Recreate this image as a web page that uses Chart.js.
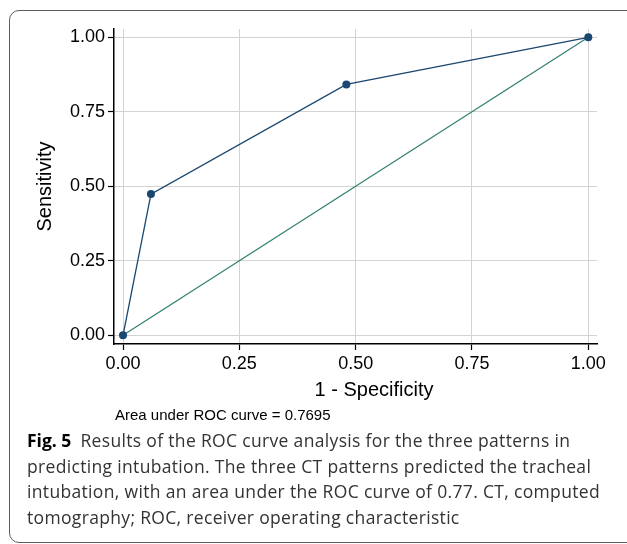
<!DOCTYPE html>
<html>
<head>
<meta charset="utf-8">
<script src="https://cdn.jsdelivr.net/npm/chart.js@4.4.1/dist/chart.umd.min.js"></script>
<style>
  html, body { margin: 0; padding: 0; background: #fff; overflow: hidden; }
  body { width: 627px; height: 544px; position: relative; }
  .frame {
    position: absolute; left: 9px; top: 10px; width: 700px; height: 531px;
    border: 1.5px solid #5e5e5e; border-radius: 10px;
  }
  #wrap { position: absolute; left: 0; top: 0; width: 627px; height: 430px; }
  .caption {
    position: absolute; left: 27px; top: 428px; white-space: nowrap;
    font-family: "Open Sans", Lato, sans-serif; font-size: 17.5px; letter-spacing: 0.33px;
    line-height: 25.5px; color: #333;
  }
  .caption b { color: #000; letter-spacing: 0; }
</style>
</head>
<body>
<div class="frame"></div>
<div id="wrap"><canvas id="roc"></canvas></div>
<div class="caption">
  <b>Fig. 5</b>&ensp;Results of the ROC curve analysis for the three patterns in<br>
  predicting intubation. The three CT patterns predicted the tracheal<br>
  intubation, with an area under the ROC curve of 0.77. CT, computed<br>
  tomography; ROC, receiver operating characteristic
</div>
<script>
// ROC points (1 - specificity, sensitivity)
const fpr = [0, 0.06, 0.48, 1];
const tpr = [0, 0.474, 0.842, 1];
// reference diagonal
const refX = [0, 1];
const refY = [0, 1];
const tickValues = [0, 0.25, 0.5, 0.75, 1];
const xTitle = "1 - Specificity";
const yTitle = "Sensitivity";
const aucNote = "Area under ROC curve = 0.7695";

const font = "'Liberation Sans', Arial, sans-serif";

// x title and AUC note sit under the axis, off-centre like the Stata output
const notes = {
  id: "notes",
  afterDraw(chart) {
    const ctx = chart.ctx;
    const area = chart.chartArea;
    ctx.save();
    ctx.fillStyle = "#000";
    ctx.textBaseline = "alphabetic";
    ctx.font = "20px " + font;
    ctx.textAlign = "center";
    ctx.fillText(xTitle, 374, area.bottom + 52);
    ctx.font = "15px " + font;
    ctx.textAlign = "left";
    ctx.fillText(aucNote, area.left + 1, area.bottom + 75.5);
    ctx.restore();
  }
};

const setTicks = scale => { scale.ticks = tickValues.map(v => ({ value: v })); };
const grid = { color: "#d3d3d3", lineWidth: 1, tickColor: "#000", tickLength: 6, tickWidth: 1.2 };
const border = { display: true, color: "#000", width: 1.5 };
const tickFont = { family: font, size: 18 };

new Chart(document.getElementById("roc"), {
  type: "scatter",
  data: {
    datasets: [
      {
        data: fpr.map((x, i) => ({ x: x, y: tpr[i] })),
        showLine: true,
        borderColor: "#1a476f",
        borderWidth: 1.3,
        pointRadius: 4,
        pointBackgroundColor: "#1a476f",
        pointBorderWidth: 0
      },
      {
        data: refX.map((x, i) => ({ x: x, y: refY[i] })),
        showLine: true,
        borderColor: "#2f7f70",
        borderWidth: 1.2,
        pointRadius: 0
      }
    ]
  },
  options: {
    responsive: true,
    maintainAspectRatio: false,
    animation: false,
    layout: { padding: { top: 29, right: 30, left: 0, bottom: 0 } },
    plugins: { legend: { display: false }, tooltip: { enabled: false } },
    scales: {
      x: {
        type: "linear",
        min: -0.0194,
        max: 1.0187,
        afterBuildTicks: setTicks,
        afterFit: s => { s.height = 86; },
        grid: grid,
        border: border,
        ticks: { font: tickFont, color: "#000", padding: 3, maxRotation: 0,
                 callback: v => v.toFixed(2) }
      },
      y: {
        type: "linear",
        min: -0.029,
        max: 1.028,
        afterBuildTicks: setTicks,
        afterFit: s => { s.width = 114; },
        grid: grid,
        border: border,
        title: { display: true, text: yTitle, color: "#000",
                 font: { family: font, size: 20 }, padding: { top: 33, bottom: 0 } },
        ticks: { font: tickFont, color: "#000", padding: 3,
                 callback: v => v.toFixed(2) }
      }
    }
  },
  plugins: [notes]
});
</script>
</body>
</html>
